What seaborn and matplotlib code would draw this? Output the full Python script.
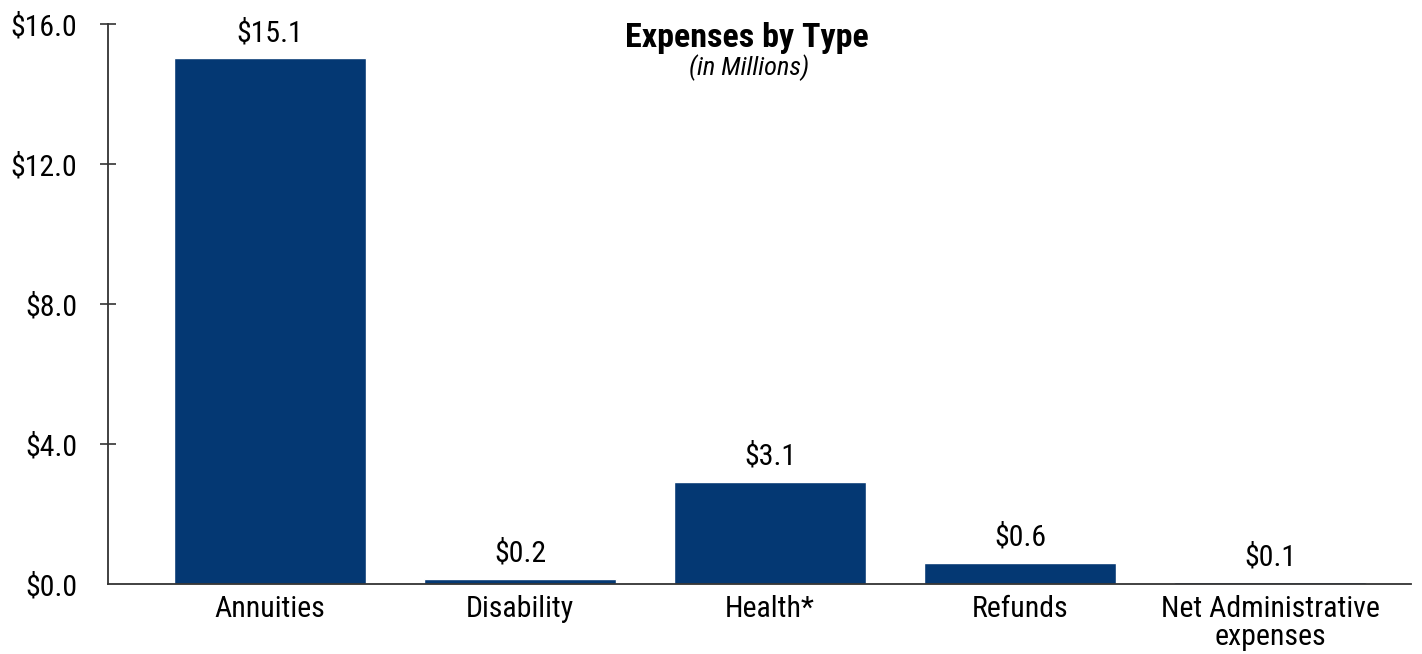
import matplotlib
matplotlib.use("Agg")
import matplotlib.pyplot as plt
from matplotlib import font_manager
import seaborn as sns
import pandas as pd

categories = ["Annuities", "Disability", "Health*", "Refunds", "Net Administrative\nexpenses"]
values = [15.02, 0.15, 2.92, 0.60, 0.05]
value_labels = ["$15.1", "$0.2", "$3.1", "$0.6", "$0.1"]
yticks = [0, 4, 8, 12, 16]
ytick_labels = ["$0.0", "$4.0", "$8.0", "$12.0", "$16.0"]

sns.set_theme(style="white")
names = {f.name for f in font_manager.fontManager.ttflist}
narrow = [n for n in ["Roboto Condensed", "Liberation Sans Narrow", "Arial Narrow",
                      "Open Sans Condensed", "DejaVu Sans Condensed"] if n in names]
condensed = bool(narrow)
fam = (narrow[0] if narrow else "Liberation Sans")
plt.rcParams["font.family"] = [fam, "DejaVu Sans"]
plt.rcParams["text.color"] = "black"
plt.rcParams["ytick.color"] = "#333333"
plt.rcParams["ytick.labelcolor"] = "black"
plt.rcParams["xtick.labelcolor"] = "black"

fs = 21.5 if condensed else 20

df = pd.DataFrame({"cat": categories, "val": values})

fig = plt.figure(figsize=(14.22, 6.54), dpi=100)
ax = fig.add_axes([108/1422, 70/654, (1411-108)/1422, (584-24)/654])
bar_color = "#043873"
sns.barplot(data=df, x="cat", y="val", color=bar_color, saturation=1, width=0.77, ax=ax)

ax.set_xlim(-0.648, 4.564)
ax.set_ylim(0, 16)
ax.set_yticks(yticks)
ax.set_yticklabels(ytick_labels, fontsize=fs)
ax.tick_params(axis="y", left=True, direction="inout", length=12, width=1.2,
               color="#333333", pad=16)
ax.yaxis.get_major_ticks()[0].tick1line.set_visible(False)
ax.tick_params(axis="x", bottom=False, length=0, pad=8, labelsize=fs)
for lab in ax.get_xticklabels():
    lab.set_linespacing(1.0)
ax.set_xlabel("")
ax.set_ylabel("")
for s in ["top", "right"]:
    ax.spines[s].set_visible(False)
for s in ["left", "bottom"]:
    ax.spines[s].set_color("#333333")
    ax.spines[s].set_linewidth(1.3)

for i, (v, t) in enumerate(zip(values, value_labels)):
    ax.annotate(t, xy=(i, v), xytext=(0, 8), textcoords="offset points",
                ha="center", va="bottom", fontsize=fs, color="black")

fig.text(747/1422, 1 - 38/654, "Expenses by Type", ha="center", va="center",
         fontsize=24.5, fontweight="bold", color="black")
fig.text(749/1422, 1 - 68/654, "(in Millions)", ha="center", va="center",
         fontsize=19, fontstyle="italic", color="black")

fig.savefig("out.png", dpi=100)
